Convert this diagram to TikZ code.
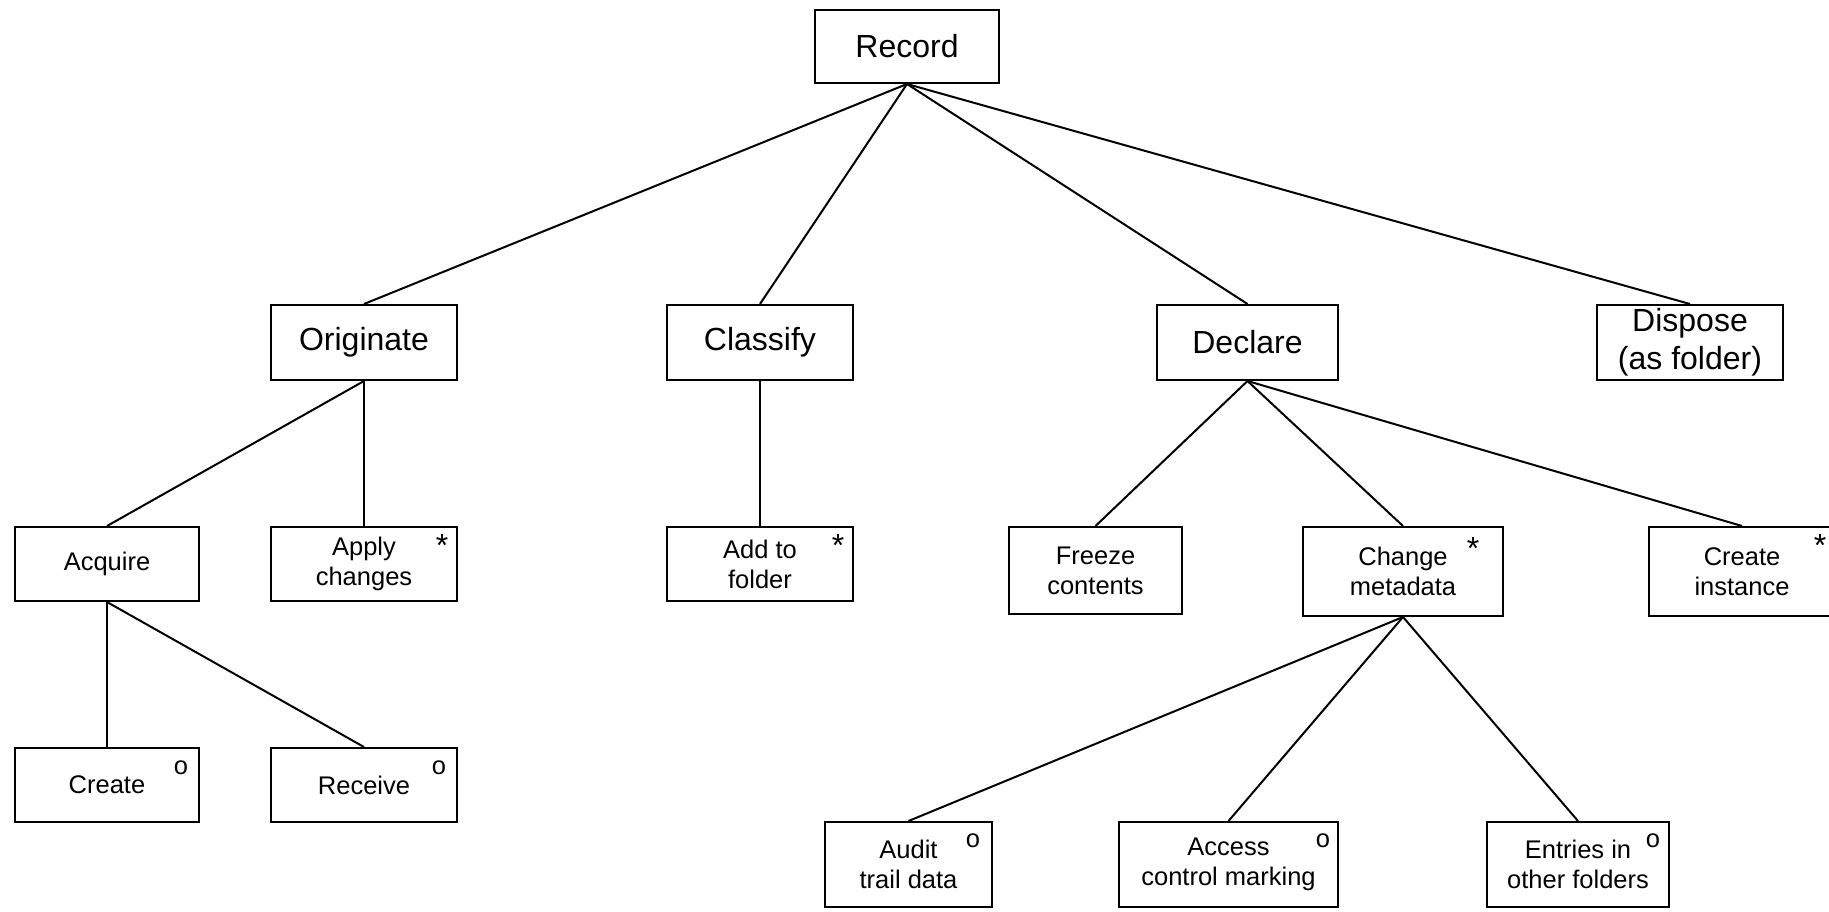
\documentclass[tikz,border=0pt]{standalone}
\usepackage{fontspec}
\setmainfont{Liberation Sans}
\usetikzlibrary{calc}
\tikzset{
  every picture/.style={x=1pt,y=-1pt},
  box/.style={draw,line width=2pt,inner sep=0pt,align=center,rectangle},
  bigbox/.style={box,font=\fontsize{32}{38}\selectfont},
  smallbox/.style={box,font=\fontsize{25.5}{30}\selectfont},
  link/.style={line width=2pt},
  flag/.style={inner sep=0pt,anchor=base,font=\fontsize{25.5}{30}\selectfont},
  star/.style={flag,font=\fontsize{32}{38}\selectfont}
}
\begin{document}
\begin{tikzpicture}
  \useasboundingbox (0,0) rectangle (1829,911);
  % top level
  \node[bigbox,minimum width=184pt,minimum height=73pt] (record) at (907,46.5) {Record};
  % second level
  \node[bigbox,minimum width=186pt,minimum height=75pt] (originate) at (364,342.5) {Originate};
  \node[bigbox,minimum width=186pt,minimum height=75pt] (classify) at (760,342.5) {Classify};
  \node[bigbox,minimum width=181pt,minimum height=75pt] (declare) at (1247.5,342.5) {Declare};
  \node[bigbox,minimum width=186pt,minimum height=75pt] (dispose) at (1690,342.5) {Dispose\\(as folder)};
  % third level
  \node[smallbox,minimum width=184pt,minimum height=74pt] (acquire) at (107,564) {Acquire};
  \node[smallbox,minimum width=186pt,minimum height=74pt] (apply) at (364,564) {Apply\\changes};
  \node[smallbox,minimum width=186pt,minimum height=74pt] (addto) at (760,564) {Add to\\folder};
  \node[smallbox,minimum width=173pt,minimum height=87pt] (freeze) at (1095.5,570.5) {Freeze\\contents};
  \node[smallbox,minimum width=200pt,minimum height=89pt] (change) at (1403,571.5) {Change\\metadata};
  \node[smallbox,minimum width=186pt,minimum height=89pt] (instance) at (1742,571.5) {Create\\instance};
  % fourth level
  \node[smallbox,minimum width=184pt,minimum height=74pt] (create) at (107,785) {Create};
  \node[smallbox,minimum width=186pt,minimum height=74pt] (receive) at (364,785) {Receive};
  \node[smallbox,minimum width=167pt,minimum height=85pt] (audit) at (908.5,864.5) {Audit\\trail data};
  \node[smallbox,minimum width=219pt,minimum height=85pt] (access) at (1228.5,864.5) {Access\\control marking};
  \node[smallbox,minimum width=182pt,minimum height=85pt] (entries) at (1578,864.5) {Entries in\\other folders};
  % markers
  \node[star] (m1) at ($(apply.north east)+(-16,30)$) {*};
  \node[star] (m2) at ($(addto.north east)+(-16,30)$) {*};
  \node[star] (m3) at ($(change.north east)+(-31,33)$) {*};
  \node[star] (m4) at ($(instance.north east)+(-16,30)$) {*};
  \node[flag] (m5) at ($(create.north east)+(-19,27)$) {o};
  \node[flag] (m6) at ($(receive.north east)+(-19,27)$) {o};
  \node[flag] (m7) at ($(audit.north east)+(-20,26)$) {o};
  \node[flag] (m8) at ($(access.north east)+(-16,26)$) {o};
  \node[flag] (m9) at ($(entries.north east)+(-17,26)$) {o};
  % connectors
  \draw[link] (record.south) -- (originate.north);
  \draw[link] (record.south) -- (classify.north);
  \draw[link] (record.south) -- (declare.north);
  \draw[link] (record.south) -- (dispose.north);
  \draw[link] (originate.south) -- (acquire.north);
  \draw[link] (originate.south) -- (apply.north);
  \draw[link] (classify.south) -- (addto.north);
  \draw[link] (declare.south) -- (freeze.north);
  \draw[link] (declare.south) -- (change.north);
  \draw[link] (declare.south) -- (instance.north);
  \draw[link] (acquire.south) -- (create.north);
  \draw[link] (acquire.south) -- (receive.north);
  \draw[link] (change.south) -- (audit.north);
  \draw[link] (change.south) -- (access.north);
  \draw[link] (change.south) -- (entries.north);
\end{tikzpicture}
\end{document}
